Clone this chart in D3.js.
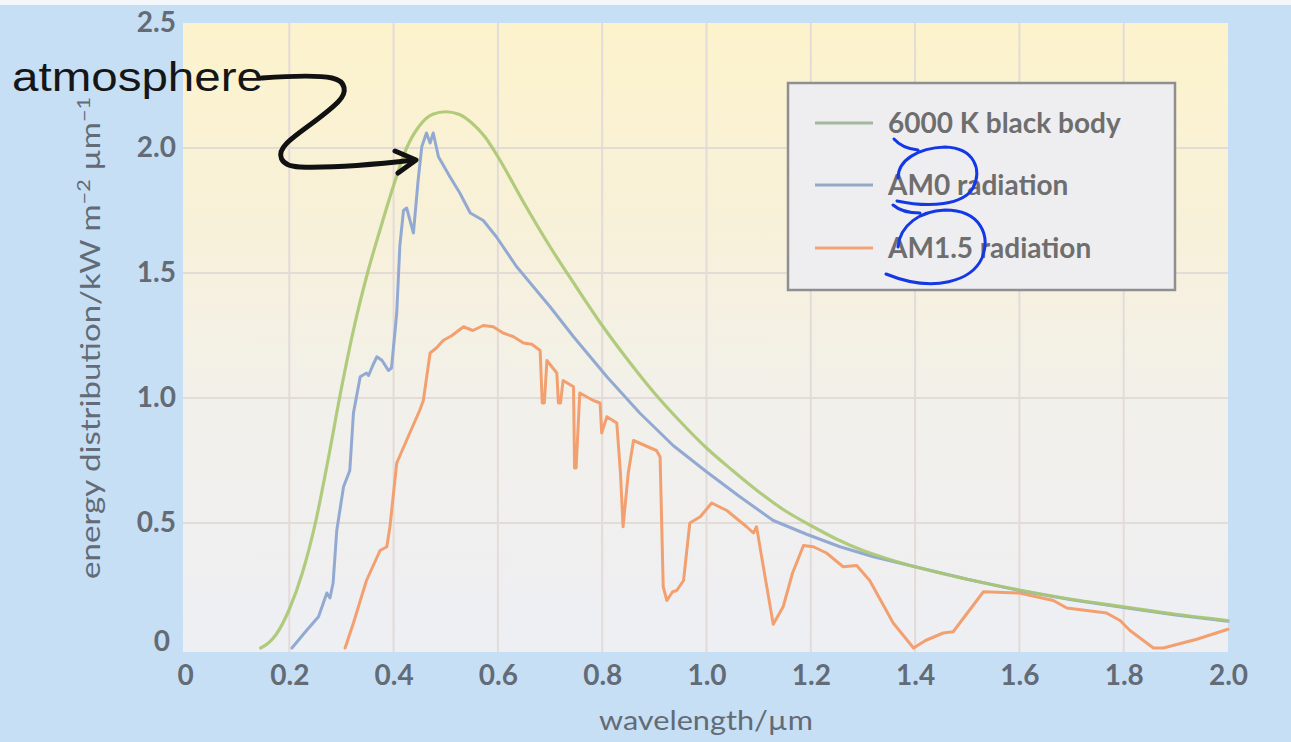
<!DOCTYPE html>
<html>
<head>
<meta charset="utf-8">
<script src="https://cdn.jsdelivr.net/npm/d3@7/dist/d3.min.js"></script>
<style>
  html, body { margin: 0; padding: 0; background: #c7dff4; }
  svg { display: block; }
</style>
</head>
<body>
<svg id="chart" width="1291" height="742"></svg>
<script>
// Spectral irradiance (kW m^-2 µm^-1) against wavelength (µm)
const bbWavelength = [0.145, 0.16, 0.175, 0.20, 0.225, 0.25, 0.275, 0.30, 0.325, 0.35, 0.375, 0.40, 0.425, 0.45, 0.475, 0.50, 0.525, 0.55, 0.575, 0.60, 0.65, 0.70, 0.75, 0.80, 0.85, 0.90, 0.95, 1.00, 1.05, 1.10, 1.15, 1.20, 1.25, 1.30, 1.35, 1.40, 1.50, 1.60, 1.70, 1.80, 1.90, 2.00];
const bbValues     = [0, 0.02, 0.055, 0.155, 0.30, 0.50, 0.76, 1.04, 1.29, 1.50, 1.68, 1.85, 2.00, 2.09, 2.135, 2.145, 2.135, 2.10, 2.045, 1.965, 1.78, 1.605, 1.445, 1.29, 1.15, 1.02, 0.905, 0.80, 0.71, 0.625, 0.55, 0.49, 0.435, 0.39, 0.355, 0.325, 0.275, 0.232, 0.195, 0.165, 0.135, 0.11];

const am0Wavelength = [0.205, 0.233, 0.256, 0.272, 0.278, 0.284, 0.291, 0.304, 0.316, 0.323, 0.336, 0.348, 0.352, 0.360, 0.368, 0.378, 0.390, 0.396, 0.406, 0.412, 0.419, 0.425, 0.438, 0.447, 0.454, 0.463, 0.470, 0.476, 0.486, 0.508, 0.527, 0.547, 0.572, 0.597, 0.636, 0.668, 0.700, 0.745, 0.809, 0.872, 0.936, 1.000, 1.064, 1.128, 1.192, 1.256, 1.320, 1.400, 1.500, 1.600, 1.700, 1.800, 1.900, 2.000];
const am0Values     = [0, 0.07, 0.125, 0.22, 0.20, 0.26, 0.47, 0.645, 0.71, 0.94, 1.085, 1.10, 1.09, 1.13, 1.165, 1.15, 1.11, 1.12, 1.34, 1.61, 1.75, 1.76, 1.66, 1.87, 2.005, 2.06, 2.02, 2.06, 1.965, 1.885, 1.82, 1.74, 1.71, 1.645, 1.525, 1.445, 1.365, 1.245, 1.085, 0.94, 0.81, 0.705, 0.605, 0.51, 0.455, 0.405, 0.365, 0.325, 0.275, 0.23, 0.193, 0.162, 0.132, 0.107];

const am15Wavelength = [0.307, 0.323, 0.348, 0.374, 0.387, 0.393, 0.406, 0.431, 0.450, 0.457, 0.470, 0.482, 0.495, 0.512, 0.534, 0.552, 0.572, 0.591, 0.610, 0.630, 0.649, 0.665, 0.681, 0.685, 0.689, 0.694, 0.713, 0.716, 0.720, 0.725, 0.745, 0.747, 0.750, 0.757, 0.783, 0.796, 0.799, 0.809, 0.828, 0.835, 0.840, 0.850, 0.860, 0.904, 0.911, 0.917, 0.924, 0.935, 0.943, 0.956, 0.968, 0.988, 1.010, 1.039, 1.077, 1.090, 1.096, 1.109, 1.128, 1.147, 1.165, 1.186, 1.205, 1.230, 1.262, 1.288, 1.313, 1.358, 1.397, 1.420, 1.454, 1.473, 1.531, 1.600, 1.665, 1.691, 1.767, 1.793, 1.812, 1.857, 1.876, 1.940, 2.000];
const am15Values     = [0, 0.10, 0.27, 0.39, 0.405, 0.485, 0.74, 0.86, 0.95, 0.99, 1.18, 1.20, 1.23, 1.25, 1.285, 1.27, 1.29, 1.285, 1.26, 1.245, 1.22, 1.215, 1.19, 0.98, 0.98, 1.15, 1.10, 0.98, 0.98, 1.07, 1.045, 0.72, 0.72, 1.02, 0.99, 0.98, 0.86, 0.925, 0.90, 0.70, 0.485, 0.70, 0.83, 0.79, 0.765, 0.245, 0.19, 0.225, 0.23, 0.27, 0.50, 0.525, 0.58, 0.55, 0.485, 0.46, 0.485, 0.325, 0.095, 0.165, 0.30, 0.41, 0.405, 0.38, 0.325, 0.33, 0.27, 0.10, 0, 0.03, 0.06, 0.065, 0.225, 0.22, 0.19, 0.16, 0.14, 0.11, 0.07, 0, 0, 0.035, 0.075];

const xTicks = [0, 0.2, 0.4, 0.6, 0.8, 1.0, 1.2, 1.4, 1.6, 1.8, 2.0];
const xTickLabels = ["0", "0.2", "0.4", "0.6", "0.8", "1.0", "1.2", "1.4", "1.6", "1.8", "2.0"];
const yTicks = [0, 0.5, 1.0, 1.5, 2.0, 2.5];
const yTickLabels = ["0", "0.5", "1.0", "1.5", "2.0", "2.5"];

const seriesNames = ["6000 K black body", "AM0 radiation", "AM1.5 radiation"];
const seriesColors = ["#aac671", "#92aad2", "#f2a070"];

const svg = d3.select("#chart");
const W = 1291, H = 742;

const plot = { left: 183, right: 1228, top: 23, bottom: 652 };
const x = d3.scaleLinear().domain([0, 2]).range([185, 1228]);
const y = d3.scaleLinear().domain([0, 2.5]).range([648, 23]);

// page background
svg.append("rect").attr("width", W).attr("height", H).attr("fill", "#c7dff4");
svg.append("rect").attr("width", W).attr("height", 5).attr("fill", "#f3f7fb");

// plot panel with a warm-to-cool vertical wash
const defs = svg.append("defs");
const grad = defs.append("linearGradient").attr("id", "panelWash")
  .attr("x1", 0).attr("y1", 0).attr("x2", 0).attr("y2", 1);
grad.append("stop").attr("offset", "0%").attr("stop-color", "#fcf3cc");
grad.append("stop").attr("offset", "30%").attr("stop-color", "#f8f1d8");
grad.append("stop").attr("offset", "60%").attr("stop-color", "#f2f0ea");
grad.append("stop").attr("offset", "100%").attr("stop-color", "#eeeff4");

svg.append("rect")
  .attr("x", plot.left).attr("y", plot.top)
  .attr("width", plot.right - plot.left).attr("height", plot.bottom - plot.top)
  .attr("fill", "url(#panelWash)");

// grid
const grid = svg.append("g").attr("stroke", "#e3dbd8").attr("stroke-width", 2);
grid.selectAll("line.v").data(xTicks.slice(1, -1)).join("line")
  .attr("x1", d => x(d)).attr("x2", d => x(d))
  .attr("y1", plot.top).attr("y2", plot.bottom);
grid.selectAll("line.h").data(yTicks.slice(1, -1)).join("line")
  .attr("y1", d => y(d)).attr("y2", d => y(d))
  .attr("x1", plot.left).attr("x2", plot.right);

// axes (labels only)
const tickFont = "Lato, 'Open Sans', sans-serif";
const xAxis = d3.axisBottom(x).tickValues(xTicks)
  .tickFormat((d, i) => xTickLabels[i]).tickSize(0).tickPadding(0);
const gx = svg.append("g").attr("transform", "translate(0,665)").call(xAxis);
gx.select(".domain").remove();
gx.selectAll("text")
  .attr("dy", "0.71em")
  .attr("fill", "#626b76").attr("font-size", 28).attr("font-weight", 700)
  .attr("font-family", tickFont);

const yAxis = d3.axisLeft(y).tickValues(yTicks)
  .tickFormat((d, i) => yTickLabels[i]).tickSize(0).tickPadding(0);
const gy = svg.append("g").attr("transform", "translate(176,0)").call(yAxis);
gy.select(".domain").remove();
gy.selectAll("text")
  .attr("fill", "#626b76").attr("font-size", 28).attr("font-weight", 700)
  .attr("font-family", tickFont);
gy.selectAll(".tick").filter(d => d === 0).select("text").attr("dy", "0.1em").attr("x", -6);

// axis titles
svg.append("text")
  .attr("x", 706).attr("y", 730).attr("text-anchor", "middle")
  .attr("fill", "#626b76").attr("font-size", 26).attr("font-family", tickFont)
  .attr("textLength", 214).attr("lengthAdjust", "spacingAndGlyphs")
  .text("wavelength/µm");

const yTitle = svg.append("text")
  .attr("transform", "translate(100,338) rotate(-90)")
  .attr("text-anchor", "middle")
  .attr("fill", "#626b76").attr("font-size", 26).attr("font-family", tickFont)
  .attr("textLength", 482).attr("lengthAdjust", "spacingAndGlyphs");
yTitle.append("tspan").text("energy distribution/kW m");
yTitle.append("tspan").attr("dy", -10).attr("font-size", 17).text("−2");
yTitle.append("tspan").attr("dy", 10).text(" µm");
yTitle.append("tspan").attr("dy", -10).attr("font-size", 17).text("−1");

// series
const toPoints = (xs, vs) => xs.map((w, i) => [w, vs[i]]);
const sharp = d3.line().x(d => x(d[0])).y(d => y(d[1])).curve(d3.curveLinear);
const smooth = d3.line().x(d => x(d[0])).y(d => y(d[1])).curve(d3.curveMonotoneX);

const lines = svg.append("g").attr("fill", "none")
  .attr("stroke-linejoin", "round").attr("stroke-linecap", "round");
lines.append("path").datum(toPoints(am15Wavelength, am15Values))
  .attr("d", sharp).attr("stroke", seriesColors[2]).attr("stroke-width", 3);
lines.append("path").datum(toPoints(am0Wavelength, am0Values))
  .attr("d", sharp).attr("stroke", seriesColors[1]).attr("stroke-width", 3);
lines.append("path").datum(toPoints(bbWavelength, bbValues))
  .attr("d", smooth).attr("stroke", seriesColors[0]).attr("stroke-width", 3.2)
  .attr("stroke-opacity", 0.9);

// legend
const legend = svg.append("g");
legend.append("rect")
  .attr("x", 788).attr("y", 83).attr("width", 387).attr("height", 207)
  .attr("fill", "#eeeef1").attr("stroke", "#8f8f8f").attr("stroke-width", 2.5);
const legendRows = [123, 185, 248];
const legendLineColors = ["#a3b99c", "#92a9c8", "#f0a374"];
seriesNames.forEach((name, i) => {
  legend.append("line")
    .attr("x1", 815).attr("x2", 873).attr("y1", legendRows[i]).attr("y2", legendRows[i])
    .attr("stroke", legendLineColors[i]).attr("stroke-width", 3);
  legend.append("text")
    .attr("x", 888).attr("y", legendRows[i] + 10)
    .attr("fill", "#6e6e6e").attr("font-size", 28).attr("font-weight", 700)
    .attr("font-family", tickFont)
    .text(name);
});

// handwritten note and arrow
svg.append("text")
  .attr("x", 12).attr("y", 91)
  .attr("fill", "#161616").attr("font-size", 41)
  .attr("font-family", "'Liberation Sans', Arial, sans-serif")
  .attr("textLength", 251).attr("lengthAdjust", "spacingAndGlyphs")
  .text("atmosphere");

const ink = svg.append("g").attr("fill", "none").attr("stroke", "#111")
  .attr("stroke-width", 5).attr("stroke-linecap", "round").attr("stroke-linejoin", "round");
ink.append("path").attr("d",
  "M262,78 C290,76 318,75 332,78 C346,81 348,92 338,102 C322,118 298,132 287,143 " +
  "C276,154 279,166 300,167 C330,168 370,165 414,160");
ink.append("path").attr("d", "M395,151 L416,160 L398,173");

const pen = svg.append("g").attr("fill", "none").attr("stroke", "#1538e6")
  .attr("stroke-width", 3).attr("stroke-linecap", "round");
pen.append("path").attr("d",
  "M894,139 C900,146 908,149 918,150 M898,178 C898,160 918,148 945,147 C975,148 982,170 973,188 C963,205 930,208 897,201");
pen.append("path").attr("d",
  "M893,205 C900,211 908,213 920,213 M898,247 C900,225 920,211 945,210 C980,210 991,235 982,258 C972,280 935,294 886,274");
</script>
</body>
</html>
